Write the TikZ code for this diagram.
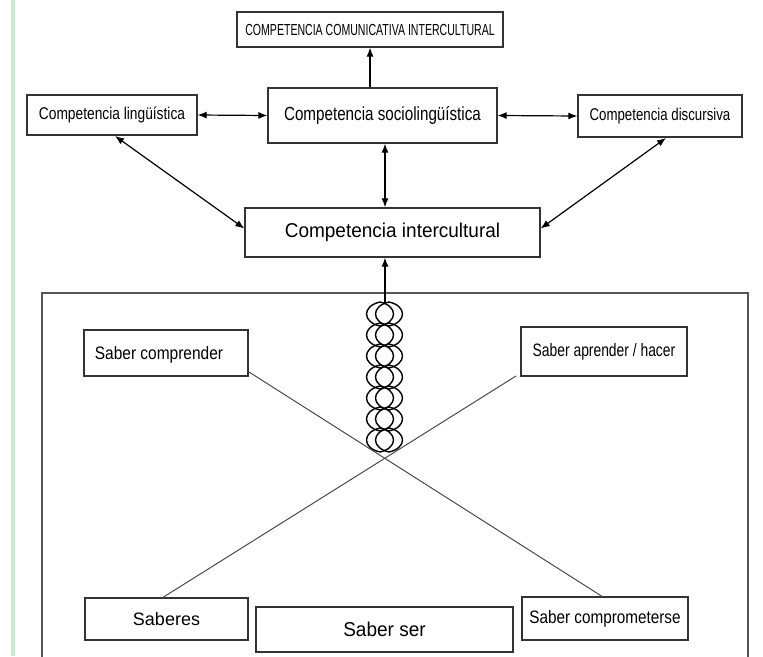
\documentclass[tikz,border=0pt]{standalone}
\usepackage{fontspec}
\setmainfont{Liberation Sans}
\usetikzlibrary{arrows.meta,calc}
\definecolor{stripgreen}{HTML}{CDE8D2}
\definecolor{boxline}{HTML}{333333}
\definecolor{bigline}{HTML}{555555}
\definecolor{xline}{HTML}{4A4A4A}
\newcommand\sqz[3]{{\fontsize{#1}{#1}\selectfont\scalebox{#2}[1]{#3}}}
\begin{document}
\begin{tikzpicture}[x=1pt,y=-1pt,
  bx/.style={draw=boxline,line width=1.3pt,fill=white,inner sep=0pt,minimum width=#1},
  arr/.style={line width=1.2pt,draw=black,-{Latex[length=9pt,width=7pt]}},
  darr/.style={line width=1.2pt,draw=black,{Latex[length=9pt,width=7pt]}-{Latex[length=9pt,width=7pt]}},
  xl/.style={line width=1pt,draw=xline},
  chain/.style={line width=1.4pt,draw=black}]
\useasboundingbox (0,0) rectangle (763,656);
\fill[white] (0,0) rectangle (763,656);
\fill[stripgreen] (11,0) rectangle (15,656);

% big box
\draw[bigline,line width=1.5pt] (42,657) -- (42,293) -- (748,293) -- (748,657);

% top row nodes
\node[bx=266pt,minimum height=35pt] (top) at (370,29.5) {\sqz{16}{0.66}{COMPETENCIA COMUNICATIVA INTERCULTURAL}};
\node[bx=170pt,minimum height=40pt] (ling) at (112,115) {\sqz{17}{0.81}{Competencia lingüística}};
\node[bx=229pt,minimum height=55pt] (socio) at (382.5,115.5) {\sqz{19}{0.80}{Competencia sociolingüística}};
\node[bx=164pt,minimum height=42pt] (disc) at (660,116) {\sqz{17}{0.78}{Competencia discursiva}};
\node[bx=295pt,minimum height=49pt] (inter) at (392.5,232.5) {\sqz{20}{0.95}{Competencia intercultural}};

% saber nodes
\node[bx=164pt,minimum height=46pt,text depth=0pt] (compr) at (166,353) {\hspace*{-14pt}\sqz{18}{0.86}{Saber comprender}};
\node[bx=166pt,minimum height=49pt] (aprend) at (604,351.5) {\sqz{18}{0.77}{Saber aprender / hacer}};
\node[bx=163pt,minimum height=42pt] (saberes) at (166.5,619) {\sqz{18}{1.0}{Saberes}};
\node[bx=166pt,minimum height=43pt] (comprom) at (605,618.5) {\sqz{18}{0.85}{Saber comprometerse}};
\node[bx=257pt,minimum height=45pt] (ser) at (384.5,629.5) {\sqz{20}{0.95}{Saber ser}};

% arrows
\draw[arr] (socio.north -| top.south) -- (top.south);
\draw[darr] (ling.east) -- (socio.west);
\draw[darr] (socio.east) -- (disc.west);
\draw[darr] (socio.south -| 385,0) -- (inter.north -| 385,0);
\coordinate (lingb) at (115,136);
\coordinate (discb) at (666,138);
\draw[darr] (lingb) -- ($(inter.west)+(0,-4)$);
\draw[darr] (discb) -- ($(inter.east)+(0,-4)$);

% X lines
\coordinate (a1) at (249,372);
\coordinate (a2) at (603,597);
\coordinate (b1) at (162,598);
\coordinate (b2) at (516,376);
\draw[xl] (a1) -- (a2);
\draw[xl] (b1) -- (b2);

% chain
\coordinate (chaintop) at (385,303);
\foreach \i in {0,...,6}{
  \pgfmathsetmacro\cy{314+21*\i}
  \foreach \cx in {380,389}{
    \draw[chain] (\cx,\cy-12) .. controls (\cx-18,\cy-8) and (\cx-18,\cy+8) .. (\cx,\cy+12)
                 .. controls (\cx+18,\cy+8) and (\cx+18,\cy-8) .. (\cx,\cy-12);
  }
}
\draw[arr] (chaintop) -- (inter.south -| chaintop);
\end{tikzpicture}
\end{document}
